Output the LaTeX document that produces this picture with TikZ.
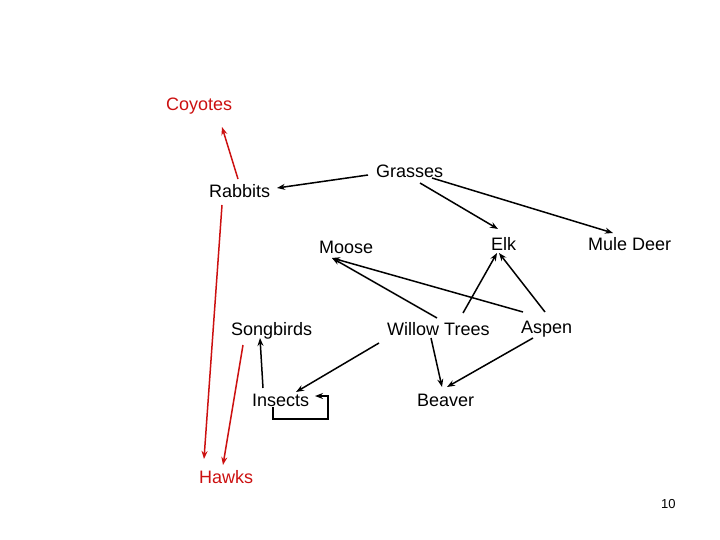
\documentclass[tikz,border=0pt]{standalone}
\usepackage{fontspec}
\setmainfont{Liberation Sans}
\usetikzlibrary{arrows.meta,calc}
\definecolor{fwred}{RGB}{204,16,16}
\begin{document}
\begin{tikzpicture}[x=1pt,y=-1pt,
  lbl/.style={anchor=base west,inner sep=0pt,text height=13pt,text depth=4pt,font=\fontsize{18}{20}\selectfont},
  redlbl/.style={lbl,text=fwred},
  link/.style={line width=1.5pt,-{Stealth[length=8pt,width=6pt]}},
  redlink/.style={link,draw=fwred}]
\useasboundingbox (0,0) rectangle (720,540);
\node[redlbl] (coyotes) at (166,111) {Coyotes};
\node[lbl] (grasses) at (376,178) {Grasses};
\node[lbl] (rabbits) at (209,198) {Rabbits};
\node[lbl] (moose) at (319,254) {Moose};
\node[lbl] (elk) at (491,251) {Elk};
\node[lbl] (mule) at (588,251) {Mule Deer};
\node[lbl] (songbirds) at (231,335) {Songbirds};
\node[lbl] (willow) at (387,335) {Willow Trees};
\node[lbl] (aspen) at (521,333) {Aspen};
\node[lbl] (insects) at (252,406) {Insects};
\node[lbl] (beaver) at (417,406) {Beaver};
\node[redlbl] (hawks) at (199,483) {Hawks};
\node[anchor=base west,inner sep=0pt,font=\fontsize{13}{15}\selectfont] (pagenum) at (661,508) {10};
% connectors
\draw[redlink] ($(rabbits.base west)+(29,-19)$) -- ($(coyotes.base west)+(56,16)$);
\draw[link] ($(grasses.base west)+(-8,-3)$) -- ($(rabbits.base west)+(68,-10)$);
\draw[link] ($(grasses.base west)+(44,5)$) -- ($(elk.base west)+(7,-22)$);
\draw[link] ($(grasses.base west)+(56,0)$) -- ($(mule.base west)+(25,-18)$);
\draw[link] ($(willow.base west)+(50,-17)$) -- ($(moose.base west)+(13,4)$);
\draw[link] ($(aspen.base west)+(2,-21)$) -- ($(moose.base west)+(13,4)$);
\draw[link] ($(willow.base west)+(76,-22)$) -- ($(elk.base west)+(6,2)$);
\draw[link] ($(aspen.base west)+(24,-21)$) -- ($(elk.base west)+(8,2)$);
\draw[link] ($(willow.base west)+(-8,8)$) -- ($(insects.base west)+(44,-14)$);
\draw[link] ($(willow.base west)+(44,3)$) -- ($(beaver.base west)+(25,-19)$);
\draw[link] ($(aspen.base west)+(12,5)$) -- ($(beaver.base west)+(30,-19)$);
\draw[link] ($(insects.base west)+(11,-18)$) -- ($(songbirds.base west)+(29,3)$);
\draw[link] ($(insects.base west)+(21,1)$) -- ($(insects.base west)+(21,13)$) -- ($(insects.base west)+(76,13)$) -- ($(insects.base west)+(76,-10)$) -- ($(insects.base west)+(63,-10)$);
\draw[redlink] ($(rabbits.base west)+(13,7)$) -- ($(hawks.base west)+(5,-24)$);
\draw[redlink] ($(songbirds.base west)+(12,10)$) -- ($(hawks.base west)+(24,-18)$);
\end{tikzpicture}
\end{document}
